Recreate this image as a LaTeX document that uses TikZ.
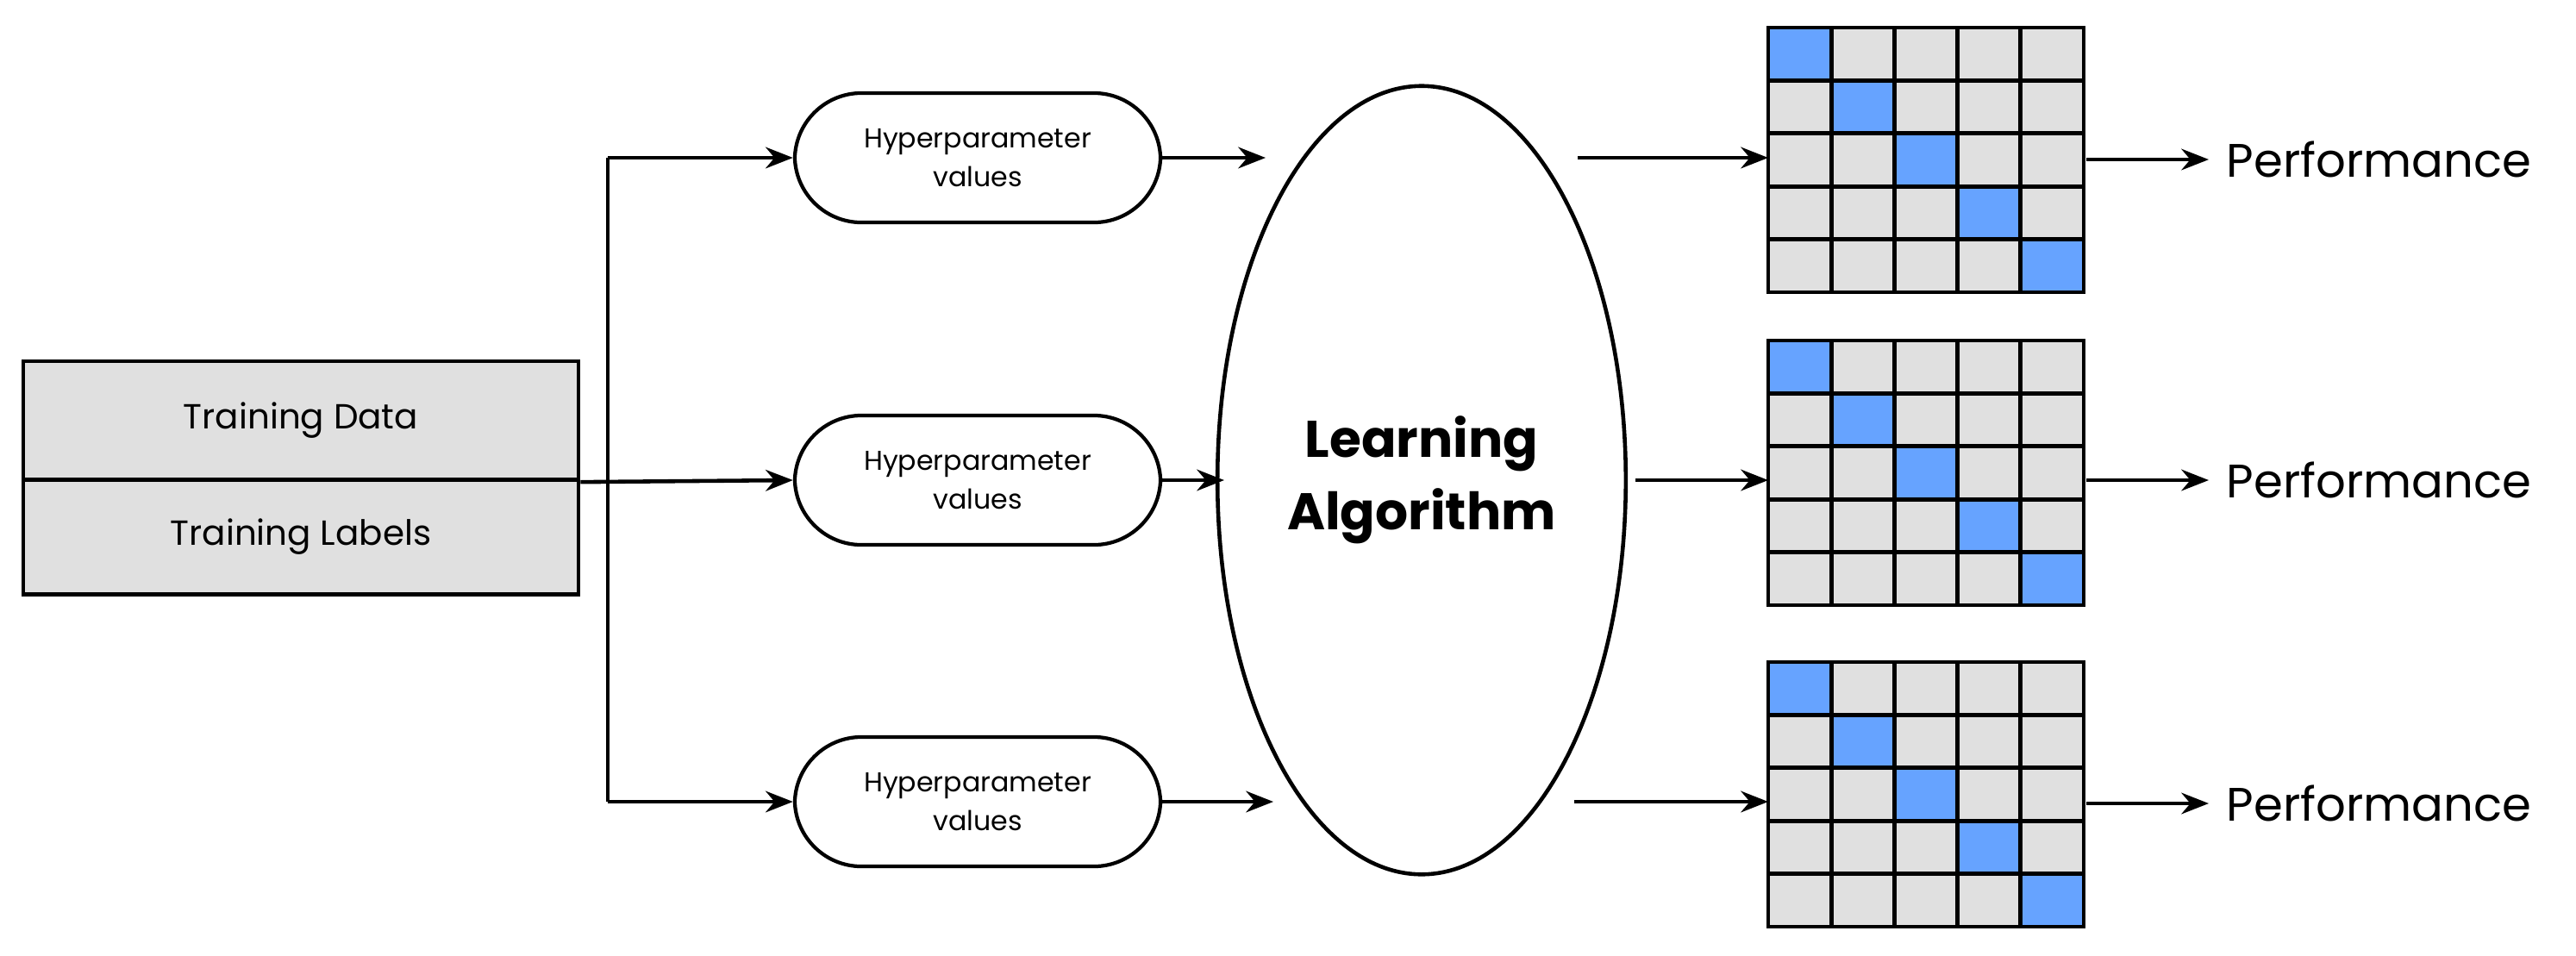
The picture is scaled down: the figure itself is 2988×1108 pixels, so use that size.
\documentclass[tikz,border=0pt]{standalone}
\usepackage{fontspec}
\setmainfont{Poppins}
\usetikzlibrary{arrows.meta,shapes.geometric}
\definecolor{cellgray}{HTML}{E0E0E0}
\definecolor{cellblue}{HTML}{66A3FF}
\tikzset{
 conn/.style={line width=1.3pt,-{Stealth[length=9pt,width=7pt]}},
 hyper/.style={draw,line width=1.2pt,rounded corners=22pt,minimum width=4.24cm,minimum height=1.5cm,align=center,font=\fontsize{9}{13}\selectfont},
 perf/.style={anchor=west,font=\fontsize{15.5}{18}\selectfont,inner sep=0pt},
}
\begin{document}
\begin{tikzpicture}[x=0.01cm,y=-0.01cm]
\useasboundingbox (0,0) rectangle (2988,1108);
% training box
\node[draw,fill=cellgray,line width=1.2pt,minimum width=6.44cm,minimum height=1.38cm,font=\fontsize{11.5}{14}\selectfont] (td) at (349,488) {Training Data};
\node[draw,fill=cellgray,line width=1.2pt,minimum width=6.44cm,minimum height=1.33cm,font=\fontsize{11.5}{14}\selectfont] (tl) at (349,623) {Training Labels};
% hyper boxes
\node[hyper] (h1) at (1134,183) {Hyperparameter\\values};
\node[hyper] (h2) at (1134,557) {Hyperparameter\\values};
\node[hyper] (h3) at (1134,930) {Hyperparameter\\values};
% trunk
\coordinate (jt) at (705,183);
\coordinate (jb) at (705,930);
\draw[line width=1.3pt] (jt) -- (jb);
\draw[conn] (jt) -- (h1.west);
\draw[conn] (jb) -- (h3.west);
\draw[conn] (td.south east) -- (h2.west);
% ellipse
\node[ellipse,draw,line width=1.3pt,minimum width=4.4cm,minimum height=9.14cm,align=center,font=\bfseries\fontsize{17}{24}\selectfont] (la) at (1649,557) {Learning\\Algorithm};
\coordinate (e1) at (1468,183);
\coordinate (e2) at (1420,557);
\coordinate (e3) at (1477,930);
\draw[conn] (h1.east) -- (e1);
\draw[conn] (h2.east) -- (e2);
\draw[conn] (h3.east) -- (e3);
% grids
\foreach \g/\top in {1/32,2/395,3/768}{
  \foreach \i in {0,...,4}{
    \foreach \j in {0,...,4}{
      \pgfmathsetmacro{\xx}{2051+73.2*\i}
      \pgfmathsetmacro{\yy}{\top+61.4*\j}
      \ifnum\i=\j
        \fill[cellblue] (\xx,\yy) rectangle ++(73.2,61.4);
      \else
        \fill[cellgray] (\xx,\yy) rectangle ++(73.2,61.4);
      \fi
    }
  }
  \foreach \k in {1,...,4}{
    \pgfmathsetmacro{\xx}{2051+73.2*\k}
    \pgfmathsetmacro{\yy}{\top+61.4*\k}
    \draw[line width=1.4pt] (\xx,\top) -- ++(0,307);
    \draw[line width=1.4pt] (2051,\yy) -- ++(366,0);
  }
  \draw[line width=1.4pt] (2051,\top) rectangle ++(366,307);
}
\coordinate (g1) at (2051,183);
\coordinate (g2) at (2051,557);
\coordinate (g3) at (2051,930);
\coordinate (o1) at (1830,183);
\coordinate (o2) at (1897,557);
\coordinate (o3) at (1826,930);
\draw[conn] (o1) -- (g1);
\draw[conn] (o2) -- (g2);
\draw[conn] (o3) -- (g3);
% performance
\node[perf] (p1) at (2582,185) {Performance};
\node[perf] (p2) at (2582,557) {Performance};
\node[perf] (p3) at (2582,932) {Performance};
\coordinate (s1) at (2420,185);
\coordinate (s2) at (2420,557);
\coordinate (s3) at (2420,932);
\draw[conn] (s1) -- ([xshift=-0.2cm]p1.west);
\draw[conn] (s2) -- ([xshift=-0.2cm]p2.west);
\draw[conn] (s3) -- ([xshift=-0.2cm]p3.west);
\end{tikzpicture}
\end{document}
